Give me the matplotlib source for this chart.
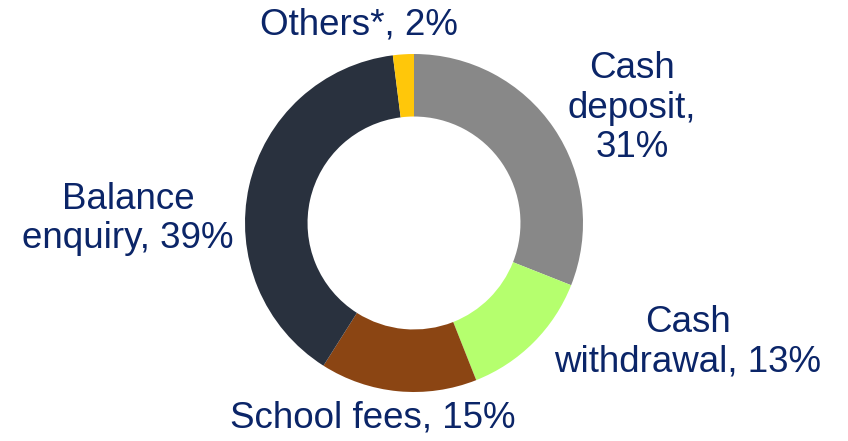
import matplotlib
matplotlib.use("Agg")
import matplotlib.pyplot as plt

labels = ["Cash\ndeposit,\n31%", "Cash\nwithdrawal, 13%", "School fees, 15%",
          "Balance\nenquiry, 39%", "Others*, 2%"]
shares = [31, 13, 15, 39, 2]
colors = ["#888888", "#B5FF6E", "#8B4513", "#29313E", "#FFC70A"]

# label anchor points, in pixel units of the canvas
label_pos = [(632, 333), (688, 99), (373, 23), (128, 222), (359, 416)]

plt.rcParams["font.family"] = ["Liberation Sans", "DejaVu Sans"]

fig = plt.figure(figsize=(8.48, 4.41), dpi=100)
ax = fig.add_axes([0, 0, 1, 1])

ax.pie(shares, colors=colors, startangle=90, counterclock=False,
       center=(414, 218), radius=169, frame=True,
       wedgeprops=dict(width=169 * 0.37, edgecolor="none"))
ax.set_xlim(0, 848)
ax.set_ylim(0, 441)
ax.set_aspect("equal")
ax.axis("off")

for text, (x, y) in zip(labels, label_pos):
    ax.text(x, y, text, ha="center", va="center", fontsize=26.5,
            color="#0B2568", linespacing=1.15, multialignment="center")

fig.savefig("out.png", dpi=100)
